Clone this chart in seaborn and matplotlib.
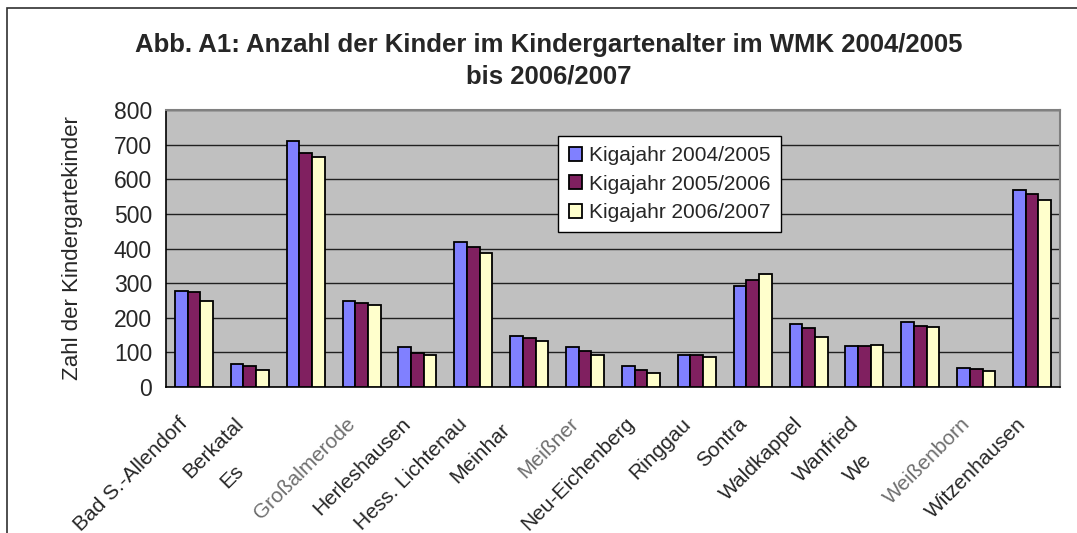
import matplotlib
matplotlib.use("Agg")
import matplotlib.pyplot as plt
import matplotlib.transforms as mtransforms
from matplotlib.patches import Patch, Rectangle
import seaborn as sns
import pandas as pd
import numpy as np

categories = ["Bad S.-Allendorf", "Berkatal", "Es", "Großalmerode", "Herleshausen",
              "Hess. Lichtenau", "Meinhar", "Meißner", "Neu-Eichenberg", "Ringgau",
              "Sontra", "Waldkappel", "Wanfried", "We", "Weißenborn", "Witzenhausen"]
series = ["Kigajahr 2004/2005", "Kigajahr 2005/2006", "Kigajahr 2006/2007"]
v_2004 = [278, 66, 710, 248, 116, 420, 147, 116, 61, 93, 292, 181, 119, 188, 56, 568]
v_2005 = [273, 61, 677, 243, 97, 405, 142, 104, 50, 93, 309, 169, 117, 176, 51, 558]
v_2006 = [248, 50, 664, 236, 93, 387, 134, 92, 41, 86, 327, 145, 122, 174, 47, 539]
colors = ["#8080FF", "#802060", "#FFFFCC"]
yticks = [0, 100, 200, 300, 400, 500, 600, 700, 800]

rows = []
for s, vals in zip(series, [v_2004, v_2005, v_2006]):
    for c, v in zip(categories, vals):
        rows.append({"Gemeinde": c, "Jahr": s, "Wert": v})
df = pd.DataFrame(rows)

sns.set_style("white")
plt.rcParams['font.family'] = ['Liberation Sans', 'DejaVu Sans']

W, H = 1077, 533
fig = plt.figure(figsize=(W / 100, H / 100), dpi=100)
ax = fig.add_axes([166 / W, 1 - 387 / H, (1060 - 166) / W, (387 - 110) / H])
ax.set_facecolor("#C0C0C0")

sns.barplot(data=df, x="Gemeinde", y="Wert", hue="Jahr", palette=colors,
            width=0.68, edgecolor="black", linewidth=1.3, ax=ax, legend=False,
            saturation=1, zorder=3)

ax.set_ylim(0, 800)
ax.set_xlim(-0.5, len(categories) - 0.5)
ax.set_yticks(yticks)
ax.set_yticklabels([str(t) for t in yticks], fontsize=16.5)
ax.yaxis.grid(True, color="#202020", linewidth=1.0, zorder=0)
ax.set_axisbelow(True)

ax.set_xticks(range(len(categories)))
ax.set_xticks(np.arange(-0.5, len(categories), 1.0), minor=True)
ax.tick_params(axis="x", which="major", length=0, pad=8)
ax.tick_params(axis="x", which="minor", length=6, width=1, color="black", direction="out")
ax.tick_params(axis="y", which="major", length=6, width=1, color="black", direction="out", pad=4)
ax.set_xticklabels(categories, rotation=45, ha="right", rotation_mode="anchor", fontsize=15)

blurred = {"Großalmerode", "Meißner", "Weißenborn"}
base_shift = (-16, -16)
offsets = {"Es": (-56, -47), "Meinhar": (-13, -6), "We": (-42, -36)}
for lab in ax.get_xticklabels():
    t = lab.get_text()
    if t in blurred:
        lab.set_color("#6E6E6E")
    dx, dy = offsets.get(t, (0, 0))
    dx += base_shift[0]
    dy += base_shift[1]
    lab.set_transform(lab.get_transform() +
                      mtransforms.ScaledTranslation(dx / 100, dy / 100, fig.dpi_scale_trans))

ax.set_xlabel("")
ax.set_ylabel("Zahl der Kindergartekinder", fontsize=16, labelpad=22)

for side in ["left", "bottom"]:
    ax.spines[side].set_color("black")
    ax.spines[side].set_linewidth(1.2)
for side in ["top", "right"]:
    ax.spines[side].set_color("#808080")
    ax.spines[side].set_linewidth(1.5)

handles = [Patch(facecolor=c, edgecolor="black", linewidth=1.3) for c in colors]
leg = ax.legend(handles, series, loc="center",
                bbox_to_anchor=((539 - 166) / 894, (387 - 235) / 277, 261 / 894, 102 / 277),
                fontsize=15, frameon=True, fancybox=False, shadow=False,
                handlelength=0.65, handleheight=0.65, handletextpad=0.3,
                labelspacing=0.45, borderpad=0.5)
leg.get_frame().set_edgecolor("black")
leg.get_frame().set_linewidth(1.0)
leg.get_frame().set_facecolor("white")
leg.get_frame().set_alpha(1)
leg.set_zorder(5)

fig.text(549 / W, 1 - 45 / H, "Abb. A1: Anzahl der Kinder im Kindergartenalter im WMK 2004/2005",
         ha="center", va="center", fontsize=18.5, fontweight="bold")
fig.text(549 / W, 1 - 77 / H, "bis 2006/2007",
         ha="center", va="center", fontsize=18.5, fontweight="bold")

frame = Rectangle((7 / W, -0.1), 1.2, 1 - 8 / H + 0.1, transform=fig.transFigure,
                  fill=False, edgecolor="#303030", linewidth=1.2)
fig.patches.append(frame)

fig.savefig("out.png", dpi=100)
